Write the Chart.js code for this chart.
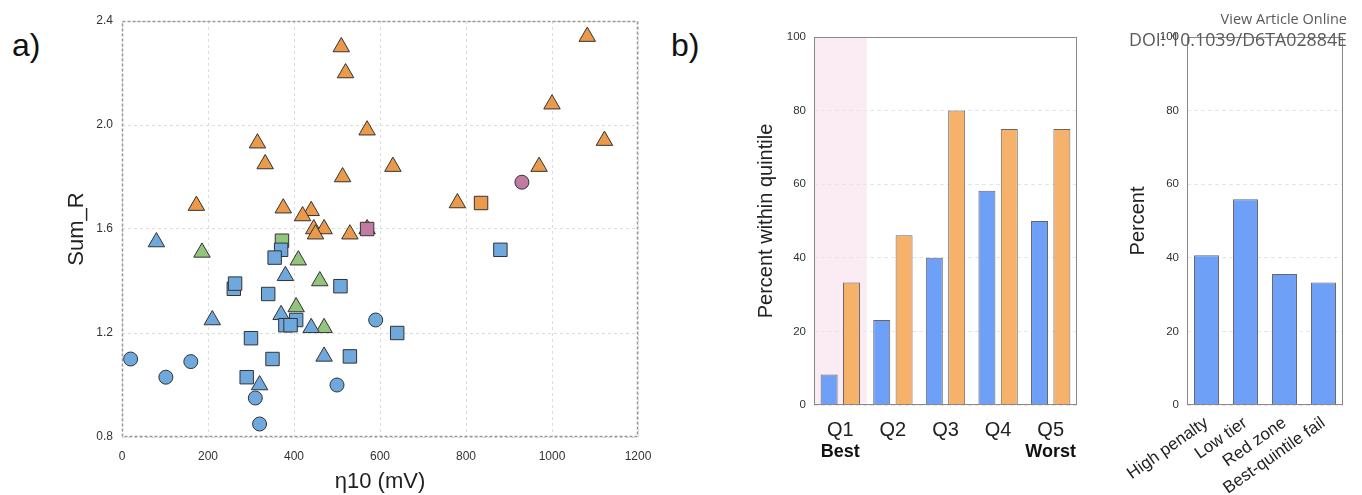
<!DOCTYPE html>
<html>
<head>
<meta charset="utf-8">
<script src="https://cdn.jsdelivr.net/npm/chart.js@4.4.1/dist/chart.umd.min.js"></script>
<style>
  body { margin: 0; background: #fff; }
  #wrap { position: relative; width: 1362px; height: 495px; overflow: hidden; font-family: Arial, "Liberation Sans", sans-serif; }
  canvas { position: absolute; top: 0; }
  .panel { position: absolute; font-size: 32px; line-height: 1; color: #111; }
  .doi { position: absolute; right: 15px; font-family: "Open Sans", sans-serif; color: #5a5a5a; white-space: nowrap; }
</style>
</head>
<body>
<div id="wrap">
  <div class="panel" style="left:12px;top:29px">a)</div>
  <div class="panel" style="left:671px;top:29px">b)</div>
  <canvas id="scatter" width="680" height="495" style="left:0"></canvas>
  <canvas id="quint" width="400" height="495" style="left:690px"></canvas>
  <canvas id="flags" width="272" height="495" style="left:1090px"></canvas>
  <div class="doi" style="top:9px;font-size:14.5px">View Article Online</div>
  <div class="doi" style="top:27px;font-size:17.8px">DOI: 10.1039/D6TA02884E</div>
</div>
<script>
// panel a: eta10 (mV) vs Sum_R, grouped by colour / marker
const blueCircles = [[20, 1.10], [102, 1.03], [160, 1.09], [590, 1.25], [500, 1.00], [310, 0.95], [320, 0.85]];
const blueSquares = [[370, 1.52], [355, 1.49], [260, 1.37], [263, 1.39], [340, 1.35], [508, 1.38], [880, 1.52],
  [405, 1.25], [380, 1.23], [392, 1.23], [640, 1.20], [300, 1.18], [350, 1.10], [530, 1.11], [290, 1.03]];
const blueTriangles = [[80, 1.55], [380, 1.42], [210, 1.25], [370, 1.27], [440, 1.22], [470, 1.11], [320, 1.00]];
const greenSquares = [[372, 1.555]];
const greenTriangles = [[186, 1.51], [410, 1.48], [460, 1.40], [405, 1.30], [470, 1.22]];
const pinkCircles = [[930, 1.78]];
const pinkSquares = [[570, 1.60]];
const orangeSquares = [[835, 1.70]];
const orangeTriangles = [[1082, 2.34], [510, 2.30], [520, 2.20], [1000, 2.08], [570, 1.98], [315, 1.93], [1122, 1.94],
  [333, 1.85], [630, 1.84], [970, 1.84], [513, 1.80], [173, 1.69], [780, 1.70], [375, 1.68], [440, 1.67],
  [420, 1.65], [446, 1.60], [470, 1.60], [450, 1.58], [530, 1.58], [570, 1.60]];

// panel b: quintiles
const quintiles = ['Q1', 'Q2', 'Q3', 'Q4', 'Q5'];
const quintBlue = [8.3, 23.1, 40, 58.2, 50];
const quintOrange = [33.3, 46.1, 80, 75, 75];

// right panel
const flagLabels = ['High penalty', 'Low tier', 'Red zone', 'Best-quintile fail'];
const flagValues = [40.7, 55.9, 35.6, 33.3];

const FONT = 'Arial, "Liberation Sans", sans-serif';
const BLUE = '#6fa8dc', GREEN = '#93c47d', ORANGE = '#eb9a4b', PINK = '#c27ba0', EDGE = '#333';
const BAR_BLUE = '#6fa0f7', BAR_ORANGE = '#f6b26b';

const framePlugin = {
  id: 'frame',
  afterDraw(chart, args, opts) {
    const { ctx, chartArea: a } = chart;
    ctx.save();
    ctx.strokeStyle = opts.color || '#888';
    ctx.lineWidth = opts.width || 1;
    ctx.setLineDash(opts.dash || []);
    ctx.strokeRect(a.left + 0.5, a.top + 0.5, a.right - a.left - 1, a.bottom - a.top - 1);
    ctx.restore();
  }
};

function pts(list) {
  return list.map(p => ({ x: p[0], y: p[1] }));
}

function group(list, color, style, r) {
  return {
    data: pts(list),
    pointStyle: style,
    pointRadius: r,
    backgroundColor: color,
    borderColor: EDGE,
    borderWidth: 1
  };
}

Chart.defaults.font.family = FONT;
Chart.defaults.animation = false;
Chart.defaults.plugins.legend.display = false;
Chart.defaults.plugins.tooltip.enabled = false;

new Chart(document.getElementById('scatter'), {
  type: 'scatter',
  data: {
    datasets: [
      group(blueCircles, BLUE, 'circle', 7),
      group(blueSquares, BLUE, 'rect', 9.5),
      group(blueTriangles, BLUE, 'triangle', 9.5),
      group(greenSquares, GREEN, 'rect', 9.5),
      group(greenTriangles, GREEN, 'triangle', 9.5),
      group(pinkCircles, PINK, 'circle', 7),
      group(pinkSquares, PINK, 'rect', 9.5),
      group(orangeSquares, ORANGE, 'rect', 9.5),
      group(orangeTriangles, ORANGE, 'triangle', 9.5)
    ]
  },
  options: {
    responsive: false,
    layout: { padding: { top: 21, right: 42, left: 0, bottom: 0 } },
    scales: {
      x: {
        min: 0, max: 1200,
        ticks: { stepSize: 200, padding: 12, color: '#333', font: { size: 12 }, callback: v => String(v) },
        grid: { color: '#ddd', drawTicks: false },
        border: { display: false, dash: [3, 3] },
        title: { display: true, text: 'η10 (mV)', color: '#222', font: { size: 22 }, padding: 0 },
        afterFit(s) { s.height = 58; }
      },
      y: {
        min: 0.8, max: 2.4,
        ticks: { stepSize: 0.4, padding: 9, color: '#333', font: { size: 12 }, callback: v => v.toFixed(1) },
        grid: { color: '#ddd', drawTicks: false },
        border: { display: false, dash: [3, 3] },
        title: { display: true, text: 'Sum_R', color: '#222', font: { size: 22 }, padding: { top: 64, bottom: 0 } },
        afterFit(s) { s.width = 122; }
      }
    },
    plugins: { frame: { color: '#999', dash: [3, 2], width: 1.5 } }
  },
  plugins: [framePlugin]
});

// light pink band behind the best quintile
const bandPlugin = {
  id: 'band',
  beforeDraw(chart) {
    const { ctx, chartArea: a, scales: { x } } = chart;
    const right = (x.getPixelForValue(0) + x.getPixelForValue(1)) / 2;
    ctx.save();
    ctx.fillStyle = '#fbebf2';
    ctx.fillRect(a.left, a.top, right - a.left, a.bottom - a.top);
    ctx.restore();
  }
};

// bold "Best" / "Worst" under the first and last quintile
const endsPlugin = {
  id: 'ends',
  afterDraw(chart) {
    const { ctx, scales: { x } } = chart;
    ctx.save();
    ctx.font = 'bold 18px ' + FONT;
    ctx.fillStyle = '#111';
    ctx.textAlign = 'center';
    ctx.textBaseline = 'middle';
    ctx.fillText('Best', x.getPixelForValue(0), x.top + 47);
    ctx.fillText('Worst', x.getPixelForValue(quintiles.length - 1), x.top + 47);
    ctx.restore();
  }
};

const yPercent = (title, width, titlePad) => ({
  min: 0, max: 100,
  ticks: { stepSize: 20, padding: 8, color: '#333', font: { size: 11.5 } },
  grid: { color: '#e6e6e6', drawTicks: false },
  border: { display: false, dash: [4, 3] },
  title: { display: true, text: title, color: '#222', font: { size: 20 }, padding: { top: titlePad, bottom: 0 } },
  afterFit(s) { s.width = width; }
});

new Chart(document.getElementById('quint'), {
  type: 'bar',
  data: {
    labels: quintiles,
    datasets: [
      { data: quintBlue, backgroundColor: BAR_BLUE, borderColor: '#666', borderWidth: 1 },
      { data: quintOrange, backgroundColor: BAR_ORANGE, borderColor: '#666', borderWidth: 1 }
    ]
  },
  options: {
    responsive: false,
    layout: { padding: { top: 37, right: 13, left: 0, bottom: 0 } },
    datasets: { bar: { categoryPercentage: 0.85, barPercentage: 0.76 } },
    scales: {
      x: {
        ticks: { padding: 5, color: '#222', font: { size: 20 } },
        grid: { display: false },
        border: { display: false },
        afterFit(s) { s.height = 90; }
      },
      y: yPercent('Percent within quintile', 124, 64)
    },
    plugins: { frame: { color: '#888', width: 1 } }
  },
  plugins: [bandPlugin, framePlugin, endsPlugin]
});

new Chart(document.getElementById('flags'), {
  type: 'bar',
  data: {
    labels: flagLabels,
    datasets: [
      { data: flagValues, backgroundColor: BAR_BLUE, borderColor: '#666', borderWidth: 1 }
    ]
  },
  options: {
    responsive: false,
    layout: { padding: { top: 37, right: 19, left: 0, bottom: 0 } },
    datasets: { bar: { categoryPercentage: 1, barPercentage: 0.64 } },
    scales: {
      x: {
        ticks: { padding: 0, color: '#222', font: { size: 17 }, minRotation: 35, maxRotation: 35, autoSkip: false },
        grid: { display: false },
        border: { display: false },
        afterFit(s) { s.height = 90; }
      },
      y: yPercent('Percent', 97, 36)
    },
    plugins: { frame: { color: '#888', width: 1 } }
  },
  plugins: [framePlugin]
});
</script>
</body>
</html>
